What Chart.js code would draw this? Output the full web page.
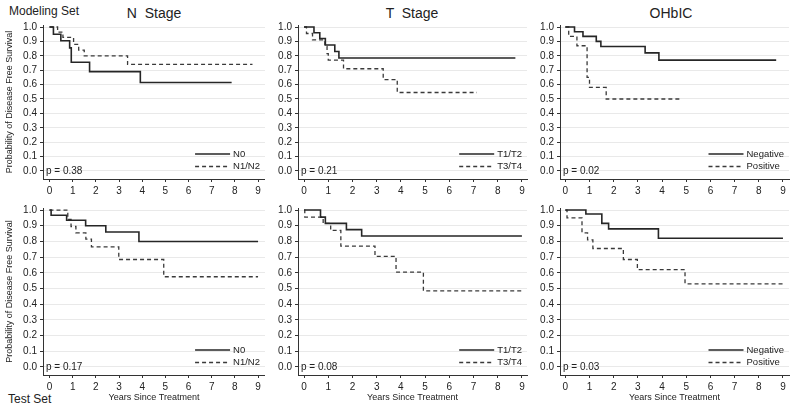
<!DOCTYPE html>
<html><head><meta charset="utf-8">
<script src="https://cdn.jsdelivr.net/npm/chart.js@4.4.1/dist/chart.umd.min.js"></script>
<style>
body{margin:0;background:#fff;width:800px;height:413px;overflow:hidden;position:relative;font-family:"Liberation Sans",Arial,sans-serif;color:#222}
canvas{position:absolute}
.t{position:absolute;white-space:pre;line-height:1}
.ct{transform:translateX(-50%)}
</style></head><body>
<div class="t" style="left:9px;top:5px;font-size:12px">Modeling Set</div>
<div class="t ct" style="left:154px;top:6px;font-size:14px">N  Stage</div>
<div class="t ct" style="left:412px;top:6px;font-size:14px">T  Stage</div>
<div class="t ct" style="left:671px;top:6px;font-size:14px">OHbIC</div>
<div class="t" style="left:8px;top:393px;font-size:12px">Test Set</div>
<canvas id="p1" width="265" height="196" style="left:0;top:0"></canvas>
<canvas id="p2" width="265" height="196" style="left:265px;top:0"></canvas>
<canvas id="p3" width="270" height="196" style="left:530px;top:0"></canvas>
<canvas id="p4" width="265" height="217" style="left:0;top:196px"></canvas>
<canvas id="p5" width="265" height="217" style="left:265px;top:196px"></canvas>
<canvas id="p6" width="270" height="217" style="left:530px;top:196px"></canvas>
<script>
// ---- data ----
const xTicks = [0,1,2,3,4,5,6,7,8,9];
const yTicks = [0,0.1,0.2,0.3,0.4,0.5,0.6,0.7,0.8,0.9,1.0];

const nLabels = ['N0','N1/N2'];
const tLabels = ['T1/T2','T3/T4'];
const oLabels = ['Negative','Positive'];

// Modeling set
const mN0Years   = [0, 0.17, 0.49, 0.87, 0.94, 1.73, 3.92, 7.86];
const mN0Surv    = [1.0, 0.95, 0.905, 0.855, 0.755, 0.69, 0.615, 0.615];
const mN12Years  = [0, 0.35, 0.58, 1.04, 1.26, 1.5, 3.37, 8.76];
const mN12Surv   = [1.0, 0.965, 0.928, 0.88, 0.84, 0.80, 0.74, 0.74];
const mT12Years  = [0, 0.41, 0.65, 0.88, 1.27, 1.44, 8.73];
const mT12Surv   = [1.0, 0.96, 0.92, 0.875, 0.83, 0.785, 0.785];
const mT34Years  = [0, 0.1, 0.35, 0.86, 0.95, 1.0, 1.63, 3.27, 3.85, 7.14];
const mT34Surv   = [1.0, 0.955, 0.91, 0.865, 0.815, 0.77, 0.71, 0.635, 0.545, 0.545];
const mNegYears  = [0, 0.38, 0.73, 1.28, 1.47, 3.3, 3.87, 8.72];
const mNegSurv   = [1.0, 0.967, 0.935, 0.9, 0.865, 0.82, 0.77, 0.77];
const mPosYears  = [0, 0.14, 0.48, 0.9, 1.0, 1.69, 4.74];
const mPosSurv   = [1.0, 0.935, 0.87, 0.65, 0.58, 0.50, 0.50];

// Test set
const tN0Years   = [0, 0.07, 0.74, 1.56, 2.43, 3.86, 9.0];
const tN0Surv    = [1.0, 0.967, 0.935, 0.9, 0.86, 0.80, 0.80];
const tN12Years  = [0, 0.79, 0.93, 1.14, 1.57, 1.81, 2.99, 4.93, 9.0];
const tN12Surv   = [1.0, 0.94, 0.895, 0.855, 0.815, 0.765, 0.685, 0.575, 0.575];
const tT12Years  = [0, 0.68, 0.88, 1.75, 2.38, 9.0];
const tT12Surv   = [1.0, 0.955, 0.915, 0.875, 0.835, 0.835];
const tT34Years  = [0, 0.03, 0.79, 1.1, 1.52, 2.93, 3.8, 4.93, 9.0];
const tT34Surv   = [1.0, 0.955, 0.915, 0.87, 0.77, 0.705, 0.605, 0.485, 0.485];
const tNegYears  = [0, 0.85, 1.51, 1.79, 3.85, 9.0];
const tNegSurv   = [1.0, 0.975, 0.915, 0.88, 0.82, 0.82];
const tPosYears  = [0, 0.07, 0.69, 0.92, 1.14, 2.4, 2.98, 4.95, 9.0];
const tPosSurv   = [1.0, 0.95, 0.855, 0.81, 0.755, 0.685, 0.62, 0.53, 0.53];

const pValues = ['0.38','0.21','0.02','0.17','0.08','0.03'];
const yAxisTitle = 'Probability of Disease Free Survival';
const xAxisTitle = 'Years Since Treatment';

// ---- drawing ----
const F = '"Liberation Sans", Arial, sans-serif';

const kmLegend = {
  id: 'kmLegend',
  afterDatasetsDraw(chart, args, opts) {
    const {ctx, chartArea: a} = chart;
    ctx.save();
    ctx.font = '9.5px ' + F;
    const dsets = chart.data.datasets;
    const w = Math.max(...dsets.map(d => ctx.measureText(d.label).width));
    const tx = a.right - 5 - w;
    dsets.forEach((d, i) => {
      const y = a.bottom - 25 + i * 12.5;
      ctx.strokeStyle = d.borderColor;
      ctx.lineWidth = d.borderWidth;
      ctx.setLineDash(d.borderDash);
      ctx.beginPath(); ctx.moveTo(tx - 38, y); ctx.lineTo(tx - 3, y); ctx.stroke();
      ctx.setLineDash([]);
      ctx.fillStyle = '#222';
      ctx.textBaseline = 'middle';
      ctx.textAlign = 'left';
      ctx.fillText(d.label, tx, y);
    });
    ctx.font = '10px ' + F;
    ctx.fillStyle = '#222';
    ctx.textBaseline = 'middle';
    ctx.fillText('p = ' + opts.p, a.left + 3, a.bottom - 7.5);
    ctx.restore();
  }
};

function panel(id, g, series, labels, p, showY, showX) {
  const datasets = series.map((s, i) => ({
    label: labels[i],
    data: s[0].map((x, j) => ({x: x, y: s[1][j]})),
    stepped: 'before',
    borderColor: i === 0 ? '#262626' : '#3a3a3a',
    borderWidth: i === 0 ? 1.6 : 1.3,
    borderDash: i === 0 ? [] : [4, 3],
    pointRadius: 0,
    fill: false
  }));
  new Chart(document.getElementById(id), {
    type: 'line',
    data: {datasets},
    options: {
      responsive: false, animation: false,
      layout: {padding: {left: 0, right: g.pr, top: g.pt, bottom: 0}},
      plugins: {legend: {display: false}, tooltip: {enabled: false}, kmLegend: {p}},
      scales: {
        x: {
          type: 'linear', min: g.xmin, max: g.xmax,
          afterBuildTicks: s => { s.ticks = xTicks.map(v => ({value: v})); },
          afterFit: s => { s.height = g.xh; },
          grid: {drawOnChartArea: false, drawTicks: true, tickLength: 3, color: '#333', tickColor: '#333'},
          border: {display: true, color: '#333', width: 1},
          ticks: {font: {size: 10, family: F}, color: '#222', padding: 3, maxRotation: 0, autoSkip: false,
                  callback: v => String(v)},
          title: {display: showX, text: xAxisTitle, font: {size: 9, family: F}, color: '#222', padding: {top: 0, bottom: 9.6}}
        },
        y: {
          type: 'linear', min: g.ymin, max: g.ymax,
          afterBuildTicks: s => { s.ticks = yTicks.map(v => ({value: v})); },
          afterFit: s => { s.width = g.yw; },
          grid: {drawOnChartArea: true, drawTicks: true, tickLength: 3, color: '#e9e9e9', tickColor: '#333'},
          border: {display: true, color: '#333', width: 1},
          ticks: {font: {size: 10, family: F}, color: '#222', padding: 3, callback: v => v.toFixed(1)},
          title: {display: showY, text: yAxisTitle, font: {size: 9, family: F}, color: '#222', padding: {top: 4.6, bottom: 0}}
        }
      }
    },
    plugins: [kmLegend]
  });
}

const rowTop = {pt: 25, xh: 17, ymin: -0.056, ymax: 1.014};
const rowBot = {pt: 12, xh: 38, ymin: -0.051, ymax: 1.013};
const col1 = {yw: 43, pr: 0, xmin: -0.28, xmax: 9.30};
const col2 = {yw: 33, pr: 3, xmin: -0.25, xmax: 9.21};
const col3 = {yw: 30, pr: 11, xmin: -0.22, xmax: 9.25};

panel('p1', {...rowTop, ...col1}, [[mN0Years, mN0Surv], [mN12Years, mN12Surv]], nLabels, pValues[0], true, false);
panel('p2', {...rowTop, ...col2}, [[mT12Years, mT12Surv], [mT34Years, mT34Surv]], tLabels, pValues[1], false, false);
panel('p3', {...rowTop, ...col3}, [[mNegYears, mNegSurv], [mPosYears, mPosSurv]], oLabels, pValues[2], false, false);
panel('p4', {...rowBot, ...col1}, [[tN0Years, tN0Surv], [tN12Years, tN12Surv]], nLabels, pValues[3], true, true);
panel('p5', {...rowBot, ...col2}, [[tT12Years, tT12Surv], [tT34Years, tT34Surv]], tLabels, pValues[4], false, true);
panel('p6', {...rowBot, ...col3}, [[tNegYears, tNegSurv], [tPosYears, tPosSurv]], oLabels, pValues[5], false, true);
</script>
</body></html>
